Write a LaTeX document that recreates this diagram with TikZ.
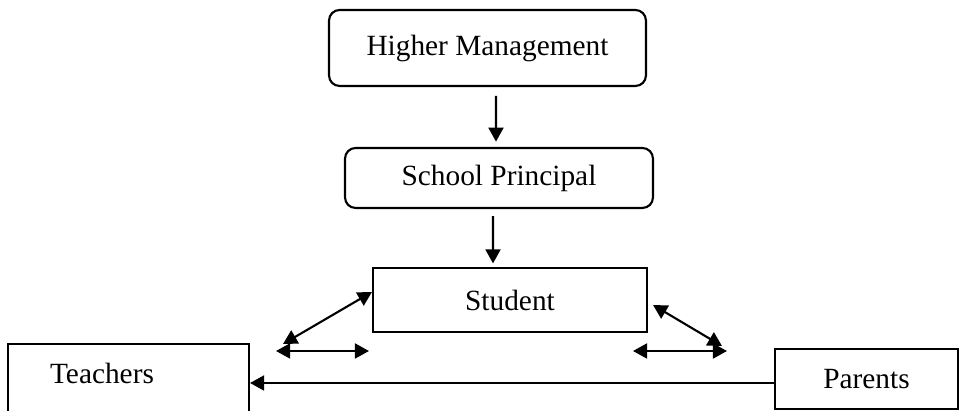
\documentclass[tikz,border=0pt]{standalone}
\usepackage{fontspec}
\setmainfont{Liberation Serif}
\usetikzlibrary{arrows.meta,calc}

\begin{document}
\begin{tikzpicture}[x=0.02cm, y=-0.02cm,
    every node/.style={font=\fontsize{16.7}{20}\selectfont},
    box/.style={draw, line width=1.2pt, inner sep=0pt},
    rbox/.style={box, rounded corners=6pt},
    arr/.style={line width=1.2pt, -{Triangle[length=8pt,width=8.5pt]}},
    dbl/.style={line width=1.2pt, {Triangle[length=8pt,width=8.5pt]}-{Triangle[length=8pt,width=8.5pt]}}]
\useasboundingbox (0,0) rectangle (968,411);

        % boxes
        \node[rbox, minimum width=6.34cm, minimum height=1.52cm] (hm) at (487.5,48) {Higher Management};
        \node[rbox, minimum width=6.16cm, minimum height=1.2cm] (sp) at (499,178) {School Principal};
        \node[box, minimum width=5.48cm, minimum height=1.28cm] (st) at (510,300) {Student};
        \node[box, minimum width=4.82cm, minimum height=1.52cm] (te) at (128.5,382) {};
        \node (tetext) at ([shift={(-26.5,-9)}]te.center) {Teachers};
        \node[box, minimum width=3.66cm, minimum height=1.2cm] (pa) at (866.5,379) {Parents};

        % free ends next to the student
        \coordinate (ld) at (283,344);
        \coordinate (lh1) at (276,351);
        \coordinate (lh2) at (369,351);
        \coordinate (rd) at (722,346);
        \coordinate (rh1) at (633,351);
        \coordinate (rh2) at (727,351);

        % connectors
        \draw[arr, shorten <=5, shorten >=3] ([xshift=0.17cm]hm.south) -- ([xshift=-0.06cm]sp.north);
        \draw[arr, shorten <=4, shorten >=2] ([xshift=-0.12cm]sp.south) -- ([xshift=-0.34cm]st.north);
        \draw[dbl] ([yshift=0.16cm]st.west) -- (ld);
        \draw[dbl] (lh1) -- (lh2);
        \draw[dbl] ([shift={(5,5)}]st.east) -- (rd);
        \draw[dbl] (rh1) -- (rh2);
        \draw[arr] ([yshift=-0.08cm]pa.west) -- ([yshift=-0.08cm]pa.west -| te.east);
\end{tikzpicture}
\end{document}
